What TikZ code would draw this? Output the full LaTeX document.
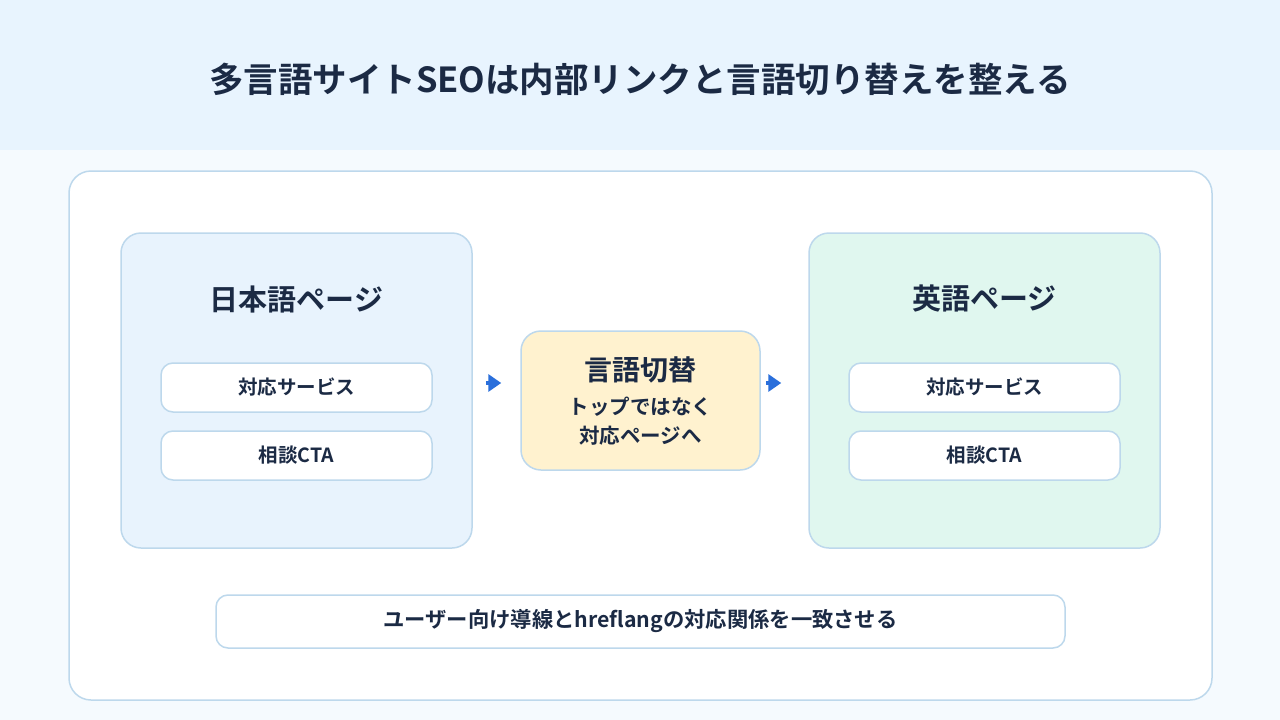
\documentclass[tikz,border=0pt]{standalone}
\usepackage{fontspec}
\setmainfont{Noto Sans CJK JP}[BoldFont={Noto Sans CJK JP Bold}]
\usetikzlibrary{arrows.meta,positioning}
\definecolor{ink}{HTML}{1B2A44}
\definecolor{band}{HTML}{E8F4FE}
\definecolor{paper}{HTML}{F5FAFE}
\definecolor{edge}{HTML}{BDD8EC}
\definecolor{jpfill}{HTML}{E8F3FD}
\definecolor{enfill}{HTML}{E0F7EF}
\definecolor{swfill}{HTML}{FFF2CF}
\definecolor{arrowblue}{HTML}{2A6FDB}
\tikzset{
  page/.style={
    shape = rectangle,
    draw = edge,
    line width = 1.5pt,
    rounded corners = 20pt,
    minimum width = 351pt,
    minimum height = 315pt
  },
  item/.style={
    shape = rectangle,
    draw = edge,
    line width = 1.5pt,
    fill = white,
    rounded corners = 12pt,
    minimum width = 271pt,
    minimum height = 49pt,
    font = \fontsize{19.5pt}{23pt}\selectfont\bfseries,
    text = ink
  },
  heading/.style={
    font = \fontsize{29pt}{33pt}\selectfont\bfseries,
    text = ink
  },
  flow/.style={
    draw = arrowblue,
    line width = 3.5pt,
    -{Triangle[length=13pt,width=17pt]}
  }
}
\begin{document}
\begin{tikzpicture}[x=1pt,y=-1pt]
  \useasboundingbox (0,0) rectangle (1280,720);
  % background
  \fill[paper] (0,0) rectangle (1280,720);
  \fill[band] (0,0) rectangle (1280,150);
  \node[font=\fontsize{34.5pt}{40pt}\selectfont\bfseries, text=ink] (title) at (640,79) {多言語サイトSEOは内部リンクと言語切り替えを整える};

  % main card
  \node[shape=rectangle, draw=edge, line width=1.5pt, fill=white, rounded corners=22pt,
        minimum width=1143pt, minimum height=529pt] (card) at (640.5,435.5) {};

  % language pages
  \node[page, fill=jpfill] (jp) at (296.5,390.5) {};
  \node[page, fill=enfill] (en) at (984.5,390.5) {};
  \node[heading] (jptitle) at (296.5,299) {日本語ページ};
  \node[heading] (entitle) at (984.5,299) {英語ページ};

  \node[item] (jpservice) at (296.5,387.5) {対応サービス};
  \node[item] (jpcta) at (296.5,455.5) {相談CTA};
  \node[item] (enservice) at (984.5,387.5) {対応サービス};
  \node[item] (encta) at (984.5,455.5) {相談CTA};

  % switcher
  \node[shape=rectangle, draw=edge, line width=1.5pt, fill=swfill, rounded corners=20pt,
        minimum width=239pt, minimum height=139pt] (switch) at (640.5,400.5) {};
  \node[heading, font=\fontsize{28pt}{32pt}\selectfont\bfseries] (swtitle) at (640.5,370) {言語切替};
  \node[font=\fontsize{20.5pt}{24pt}\selectfont\bfseries, text=ink] (swline1) at (640.5,407) {トップではなく};
  \node[font=\fontsize{20.5pt}{24pt}\selectfont\bfseries, text=ink] (swline2) at (640.5,436) {対応ページへ};

  \draw[flow, shorten <=13pt, shorten >=19pt] (jp.east |- 0,383) -- (switch.west |- 0,383);
  \draw[flow, shorten <=5pt, shorten >=27pt] (switch.east |- 0,383) -- (en.west |- 0,383);

  % footer note
  \node[item, minimum width=849pt, minimum height=53pt, font=\fontsize{21.3pt}{25pt}\selectfont\bfseries] (note) at (640.5,621.5) {ユーザー向け導線とhreflangの対応関係を一致させる};
\end{tikzpicture}
\end{document}
